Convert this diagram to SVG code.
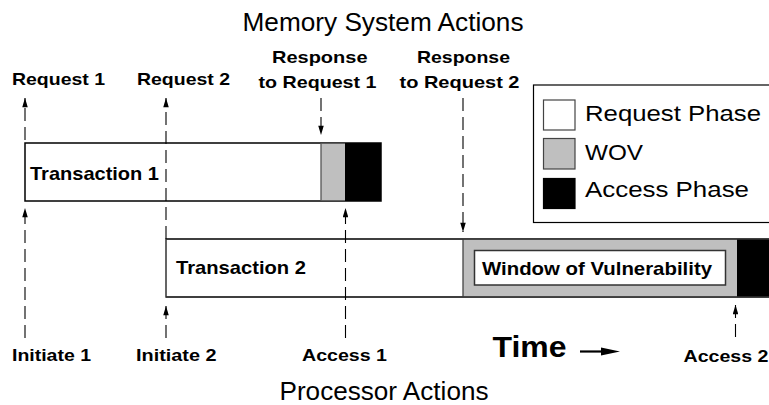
<svg xmlns="http://www.w3.org/2000/svg" width="769" height="405" viewBox="0 0 769 405">
<defs>
<style>
text{font-family:"Liberation Sans",Arial,Helvetica,sans-serif;fill:#000}
.ev{font-weight:bold;font-size:17px}
.tx{font-weight:bold;font-size:18.5px}
.ttl{font-size:26px}
.leg{font-size:22.5px}
.conn{stroke:#000;stroke-width:1.1;stroke-dasharray:13 6;fill:none;marker-end:url(#ah)}
.box{fill:#fff;stroke:#000;stroke-width:1.5}
.wov{fill:#bfbfbf}
.acc{fill:#000}
</style>
<marker id="ah" viewBox="0 0 10 6" refX="10" refY="3" markerWidth="10" markerHeight="5.5" markerUnits="userSpaceOnUse" orient="auto">
<path d="M0,0 L10,3 L0,6 z" fill="#000"/>
</marker>
</defs>
<rect width="769" height="405" fill="#fff"/>

<text id="title-memory" class="ttl" x="242.5" y="30.5" textLength="281" lengthAdjust="spacingAndGlyphs">Memory System Actions</text>
<text id="title-processor" class="ttl" x="279.5" y="400" textLength="209" lengthAdjust="spacingAndGlyphs">Processor Actions</text>

<g id="transaction1">
<rect class="box" x="25" y="143" width="356" height="58"/>
<rect class="wov" x="321" y="143.75" width="24" height="56.5"/>
<rect class="acc" x="345" y="143" width="36" height="58"/>
<line x1="321" y1="143" x2="321" y2="201" stroke="#555" stroke-width="1.3"/>
<text class="tx" x="30" y="180" textLength="129" lengthAdjust="spacingAndGlyphs">Transaction 1</text>
</g>

<g id="transaction2">
<rect x="166" y="239" width="640" height="58" fill="#fff" stroke="#333" stroke-width="1.5"/>
<rect class="wov" x="463" y="239.75" width="274" height="56.5"/>
<rect class="acc" x="737" y="239" width="40" height="58"/>
<line x1="463" y1="239" x2="463" y2="297" stroke="#444" stroke-width="1.3"/>
<line x1="166" y1="239" x2="769" y2="239" stroke="#333" stroke-width="1.5"/>
<line x1="166" y1="297" x2="769" y2="297" stroke="#333" stroke-width="1.5"/>
<text class="tx" x="176" y="274" textLength="130" lengthAdjust="spacingAndGlyphs">Transaction 2</text>
<g id="window-of-vulnerability">
<rect x="474.5" y="250.5" width="251" height="34.5" fill="#fff" stroke="#333" stroke-width="1.5"/>
<text class="tx" x="482" y="275" textLength="230" lengthAdjust="spacingAndGlyphs">Window of Vulnerability</text>
</g>
</g>

<g id="legend">
<rect x="533.5" y="85" width="260" height="137.5" fill="#fff" stroke="#000" stroke-width="1.2"/>
<rect x="543.5" y="100" width="31.5" height="30" fill="#fff" stroke="#444" stroke-width="1.2"/>
<rect x="543.5" y="138.5" width="31.5" height="30.5" fill="#bfbfbf" stroke="#444" stroke-width="1.2"/>
<rect x="543.5" y="178.5" width="31.5" height="30" fill="#000" stroke="#000" stroke-width="1.2"/>
<text class="leg" x="585" y="120.5" textLength="176" lengthAdjust="spacingAndGlyphs">Request Phase</text>
<text class="leg" x="585" y="160" textLength="58" lengthAdjust="spacingAndGlyphs">WOV</text>
<text class="leg" x="585" y="197" textLength="164" lengthAdjust="spacingAndGlyphs">Access Phase</text>
</g>

<g id="label-request1"><text class="ev" x="12" y="85" textLength="93" lengthAdjust="spacingAndGlyphs">Request 1</text></g>
<g id="label-request2"><text class="ev" x="137" y="85" textLength="93" lengthAdjust="spacingAndGlyphs">Request 2</text></g>
<g id="label-response1">
<text class="ev" x="272" y="63" textLength="95.5" lengthAdjust="spacingAndGlyphs">Response</text>
<text class="ev" x="258.5" y="87.5" textLength="118" lengthAdjust="spacingAndGlyphs">to Request 1</text>
</g>
<g id="label-response2">
<text class="ev" x="417" y="63" textLength="93" lengthAdjust="spacingAndGlyphs">Response</text>
<text class="ev" x="399.5" y="87.5" textLength="120" lengthAdjust="spacingAndGlyphs">to Request 2</text>
</g>
<g id="label-initiate1"><text class="ev" x="12" y="361" textLength="79" lengthAdjust="spacingAndGlyphs">Initiate 1</text></g>
<g id="label-initiate2"><text class="ev" x="136" y="361" textLength="80.5" lengthAdjust="spacingAndGlyphs">Initiate 2</text></g>
<g id="label-access1"><text class="ev" x="302" y="361" textLength="85" lengthAdjust="spacingAndGlyphs">Access 1</text></g>
<g id="label-access2"><text class="ev" x="683.5" y="361.5" textLength="85" lengthAdjust="spacingAndGlyphs">Access 2</text></g>

<g id="time-axis">
<text x="492.5" y="356.5" font-weight="bold" font-size="30" textLength="74" lengthAdjust="spacingAndGlyphs">Time</text>
<line x1="580" y1="351.5" x2="605" y2="351.5" stroke="#000" stroke-width="2.2"/>
<polygon points="620,351.5 601,347.5 601,355.5" fill="#000"/>
</g>

<g id="connectors">
<line class="conn" x1="25" y1="140" x2="25" y2="98"/>
<line class="conn" x1="25" y1="338" x2="25" y2="208"/>
<line class="conn" x1="166" y1="239" x2="166" y2="98"/>
<line class="conn" x1="166" y1="338" x2="166" y2="306"/>
<line class="conn" x1="321" y1="98" x2="321" y2="135"/>
<line class="conn" x1="345.5" y1="338" x2="345.5" y2="208"/>
<line class="conn" x1="463" y1="98" x2="463" y2="232"/>
<line class="conn" x1="735.5" y1="337" x2="735.5" y2="305"/>
</g>
</svg>
